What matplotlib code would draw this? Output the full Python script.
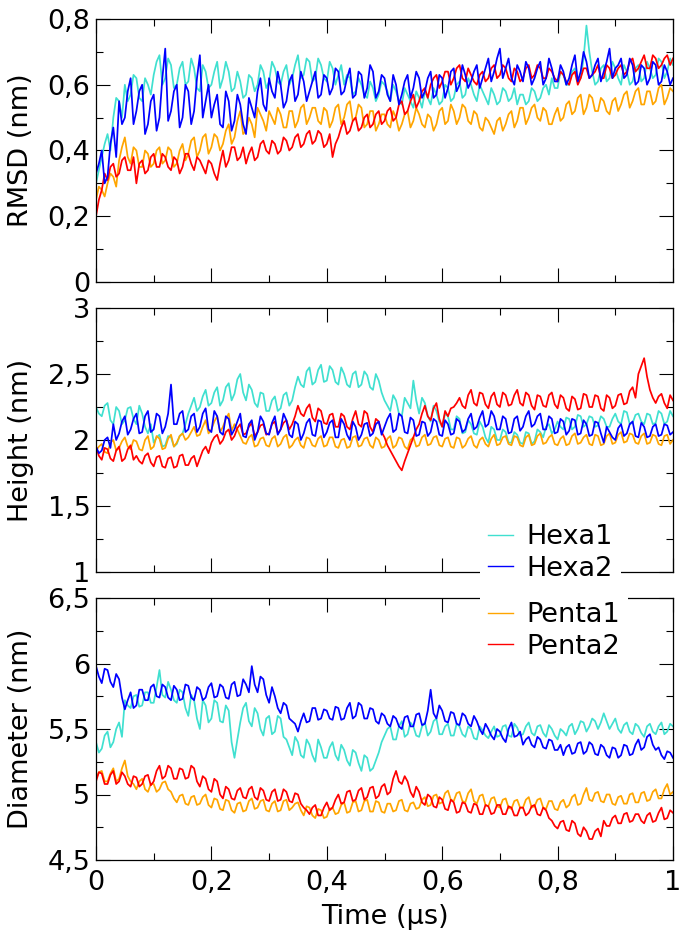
import numpy as np
import matplotlib
matplotlib.use("Agg")
import matplotlib.pyplot as plt
from matplotlib.ticker import MultipleLocator, FuncFormatter

plt.rcParams['font.family'] = ['DejaVu Sans']

# readings every 0.01 µs (t = 0 ... 1) and in between (t = 0.005 ... 0.995)
t_main = np.linspace(0, 1, 101)
t_mid = np.linspace(0.005, 0.995, 100)

# ---- RMSD (nm) ----
rmsd_hexa1 = [0.30, 0.38, 0.45, 0.50, 0.55, 0.60, 0.57, 0.62, 0.55, 0.60,
              0.63, 0.69, 0.62, 0.66, 0.60, 0.67, 0.61, 0.65, 0.58, 0.64,
              0.60, 0.67, 0.62, 0.64, 0.59, 0.61, 0.57, 0.62, 0.60, 0.64,
              0.61, 0.65, 0.60, 0.66, 0.62, 0.69, 0.63, 0.67, 0.62, 0.66,
              0.61, 0.65, 0.63, 0.60, 0.62, 0.58, 0.60, 0.56, 0.59, 0.57,
              0.60, 0.55, 0.58, 0.54, 0.57, 0.53, 0.56, 0.58, 0.54, 0.57,
              0.55, 0.59, 0.56, 0.61, 0.57, 0.60, 0.55, 0.58, 0.54, 0.57,
              0.55, 0.58, 0.56, 0.54, 0.57, 0.55, 0.58, 0.56, 0.60, 0.62,
              0.59, 0.63, 0.60, 0.65, 0.62, 0.78, 0.64, 0.61, 0.66, 0.62,
              0.65, 0.60, 0.64, 0.61, 0.66, 0.62, 0.65, 0.63, 0.67, 0.64,
              0.66]
rmsd_hexa1_mid = [0.34, 0.42, 0.40, 0.56, 0.50, 0.55, 0.63, 0.56, 0.62, 0.57,
                  0.67, 0.60, 0.68, 0.59, 0.65, 0.60, 0.68, 0.59, 0.66, 0.59,
                  0.64, 0.59, 0.67, 0.58, 0.64, 0.56, 0.63, 0.58, 0.66, 0.59,
                  0.67, 0.61, 0.64, 0.60, 0.66, 0.62, 0.68, 0.61, 0.68, 0.62,
                  0.67, 0.60, 0.66, 0.63, 0.57, 0.62, 0.57, 0.61, 0.55, 0.61,
                  0.58, 0.60, 0.55, 0.59, 0.55, 0.58, 0.53, 0.56, 0.59, 0.54,
                  0.60, 0.55, 0.60, 0.56, 0.62, 0.57, 0.60, 0.56, 0.59, 0.54,
                  0.59, 0.55, 0.59, 0.57, 0.54, 0.59, 0.55, 0.59, 0.57, 0.59,
                  0.64, 0.60, 0.64, 0.61, 0.68, 0.70, 0.60, 0.65, 0.61, 0.67,
                  0.62, 0.66, 0.60, 0.65, 0.61, 0.67, 0.62, 0.68, 0.62, 0.68]
rmsd_hexa2 = [0.33, 0.40, 0.32, 0.47, 0.55, 0.50, 0.62, 0.52, 0.60, 0.48,
              0.57, 0.50, 0.71, 0.52, 0.60, 0.50, 0.58, 0.52, 0.69, 0.55,
              0.50, 0.57, 0.47, 0.55, 0.49, 0.54, 0.45, 0.53, 0.58, 0.54,
              0.62, 0.56, 0.60, 0.55, 0.63, 0.57, 0.61, 0.58, 0.64, 0.57,
              0.62, 0.59, 0.64, 0.58, 0.65, 0.57, 0.63, 0.59, 0.64, 0.58,
              0.62, 0.55, 0.60, 0.57, 0.63, 0.59, 0.62, 0.58, 0.64, 0.57,
              0.62, 0.59, 0.65, 0.60, 0.63, 0.61, 0.66, 0.62, 0.68, 0.64,
              0.71, 0.65, 0.62, 0.66, 0.61, 0.65, 0.62, 0.67, 0.62, 0.65,
              0.61, 0.64, 0.62, 0.69, 0.64, 0.67, 0.63, 0.68, 0.64, 0.71,
              0.65, 0.68, 0.63, 0.66, 0.61, 0.65, 0.62, 0.66, 0.61, 0.64,
              0.62]
rmsd_hexa2_mid = [0.36, 0.30, 0.42, 0.38, 0.48, 0.58, 0.48, 0.58, 0.45, 0.55,
                  0.46, 0.62, 0.49, 0.58, 0.47, 0.60, 0.48, 0.62, 0.50, 0.60,
                  0.54, 0.48, 0.58, 0.46, 0.57, 0.48, 0.56, 0.50, 0.62, 0.52,
                  0.58, 0.64, 0.53, 0.61, 0.55, 0.64, 0.55, 0.61, 0.56, 0.63,
                  0.57, 0.65, 0.57, 0.62, 0.56, 0.64, 0.56, 0.66, 0.56, 0.63,
                  0.57, 0.63, 0.54, 0.61, 0.56, 0.64, 0.56, 0.62, 0.56, 0.63,
                  0.56, 0.64, 0.58, 0.66, 0.59, 0.64, 0.59, 0.65, 0.61, 0.68,
                  0.62, 0.68, 0.60, 0.64, 0.67, 0.60, 0.65, 0.60, 0.68, 0.61,
                  0.66, 0.60, 0.66, 0.61, 0.70, 0.62, 0.66, 0.61, 0.67, 0.62,
                  0.66, 0.62, 0.68, 0.60, 0.66, 0.60, 0.67, 0.60, 0.66, 0.60]
rmsd_penta1 = [0.25, 0.28, 0.30, 0.32, 0.37, 0.44, 0.36, 0.40, 0.35, 0.39,
               0.36, 0.41, 0.37, 0.40, 0.36, 0.42, 0.39, 0.44, 0.40, 0.45,
               0.41, 0.44, 0.42, 0.48, 0.44, 0.52, 0.46, 0.48, 0.53, 0.49,
               0.52, 0.48, 0.51, 0.47, 0.52, 0.49, 0.54, 0.50, 0.53, 0.48,
               0.52, 0.49, 0.54, 0.50, 0.55, 0.50, 0.53, 0.48, 0.52, 0.48,
               0.51, 0.47, 0.50, 0.48, 0.52, 0.49, 0.51, 0.47, 0.50, 0.48,
               0.53, 0.49, 0.52, 0.50, 0.53, 0.48, 0.51, 0.46, 0.49, 0.45,
               0.50, 0.48, 0.52, 0.49, 0.53, 0.50, 0.54, 0.49, 0.52, 0.48,
               0.53, 0.50, 0.55, 0.52, 0.57, 0.53, 0.56, 0.52, 0.55, 0.51,
               0.56, 0.54, 0.58, 0.55, 0.59, 0.54, 0.58, 0.55, 0.60, 0.56,
               0.58]
rmsd_penta1_mid = [0.29, 0.26, 0.33, 0.29, 0.41, 0.38, 0.41, 0.35, 0.40, 0.35,
                   0.40, 0.36, 0.41, 0.35, 0.40, 0.37, 0.43, 0.38, 0.44, 0.39,
                   0.45, 0.40, 0.46, 0.42, 0.49, 0.45, 0.50, 0.44, 0.51, 0.46,
                   0.50, 0.53, 0.47, 0.52, 0.47, 0.53, 0.48, 0.53, 0.49, 0.53,
                   0.47, 0.53, 0.48, 0.54, 0.49, 0.54, 0.47, 0.52, 0.46, 0.51,
                   0.48, 0.52, 0.46, 0.51, 0.47, 0.53, 0.48, 0.51, 0.46, 0.52,
                   0.48, 0.54, 0.48, 0.54, 0.49, 0.52, 0.47, 0.50, 0.47, 0.49,
                   0.46, 0.51, 0.47, 0.53, 0.48, 0.53, 0.50, 0.53, 0.48, 0.51,
                   0.49, 0.54, 0.51, 0.56, 0.51, 0.57, 0.52, 0.56, 0.52, 0.55,
                   0.52, 0.57, 0.53, 0.58, 0.54, 0.58, 0.54, 0.59, 0.54, 0.59]
rmsd_penta2 = [0.20, 0.28, 0.31, 0.36, 0.33, 0.38, 0.34, 0.30, 0.37, 0.34,
               0.39, 0.35, 0.38, 0.34, 0.37, 0.35, 0.39, 0.34, 0.37, 0.33,
               0.36, 0.31, 0.40, 0.37, 0.41, 0.38, 0.36, 0.41, 0.38, 0.43,
               0.39, 0.42, 0.40, 0.43, 0.41, 0.45, 0.42, 0.46, 0.43, 0.45,
               0.42, 0.38, 0.44, 0.49, 0.46, 0.50, 0.47, 0.51, 0.48, 0.52,
               0.49, 0.53, 0.50, 0.55, 0.52, 0.57, 0.55, 0.59, 0.60, 0.63,
               0.61, 0.64, 0.62, 0.66, 0.61, 0.63, 0.60, 0.64, 0.62, 0.66,
               0.63, 0.65, 0.61, 0.64, 0.62, 0.66, 0.63, 0.65, 0.62, 0.64,
               0.61, 0.63, 0.60, 0.64, 0.62, 0.65, 0.63, 0.66, 0.62, 0.65,
               0.63, 0.66, 0.64, 0.68, 0.65, 0.69, 0.65, 0.68, 0.66, 0.69,
               0.68]
rmsd_penta2_mid = [0.25, 0.33, 0.35, 0.32, 0.37, 0.34, 0.38, 0.36, 0.33, 0.38,
                   0.35, 0.39, 0.35, 0.38, 0.33, 0.39, 0.36, 0.38, 0.35, 0.37,
                   0.33, 0.36, 0.35, 0.41, 0.37, 0.41, 0.39, 0.37, 0.42, 0.40,
                   0.43, 0.39, 0.44, 0.40, 0.44, 0.41, 0.45, 0.42, 0.46, 0.41,
                   0.45, 0.42, 0.47, 0.45, 0.49, 0.46, 0.50, 0.47, 0.51, 0.48,
                   0.52, 0.49, 0.54, 0.51, 0.55, 0.53, 0.58, 0.56, 0.62, 0.59,
                   0.64, 0.60, 0.65, 0.62, 0.65, 0.61, 0.63, 0.61, 0.65, 0.62,
                   0.66, 0.62, 0.65, 0.61, 0.65, 0.62, 0.66, 0.62, 0.65, 0.62,
                   0.64, 0.61, 0.63, 0.60, 0.65, 0.62, 0.64, 0.62, 0.66, 0.62,
                   0.65, 0.63, 0.67, 0.64, 0.67, 0.65, 0.69, 0.65, 0.68, 0.66]

# ---- Height (nm) ----
height_hexa1 = [2.25, 2.18, 2.28, 2.12, 2.22, 2.15, 2.25, 2.12, 2.20, 2.05,
                1.98, 2.04, 1.96, 2.02, 1.97, 2.05, 2.20, 2.32, 2.25, 2.38,
                2.28, 2.40, 2.30, 2.43, 2.35, 2.50, 2.30, 2.38, 2.25, 2.35,
                2.22, 2.33, 2.24, 2.36, 2.30, 2.48, 2.40, 2.55, 2.44, 2.57,
                2.45, 2.53, 2.42, 2.50, 2.40, 2.52, 2.42, 2.49, 2.38, 2.45,
                2.30, 2.22, 2.30, 2.18, 2.28, 2.45, 2.20, 2.28, 2.14, 2.22,
                2.10, 2.18, 2.08, 2.16, 2.06, 2.12, 2.04, 2.10, 1.98, 2.08,
                2.00, 2.06, 1.98, 2.04, 1.97, 2.05, 1.99, 2.06, 2.10, 2.05,
                2.14, 2.08, 2.16, 2.10, 2.18, 2.12, 2.17, 2.11, 2.16, 2.10,
                2.20, 2.12, 2.21, 2.13, 2.20, 2.12, 2.19, 2.13, 2.20, 2.14,
                2.18]
height_hexa1_mid = [2.20, 2.26, 2.15, 2.25, 2.12, 2.24, 2.16, 2.26, 2.10, 2.12,
                    2.02, 1.95, 2.03, 1.95, 2.03, 2.12, 2.26, 2.22, 2.33, 2.26,
                    2.36, 2.26, 2.40, 2.30, 2.46, 2.36, 2.42, 2.28, 2.36, 2.22,
                    2.30, 2.22, 2.34, 2.26, 2.40, 2.42, 2.52, 2.42, 2.53, 2.44,
                    2.56, 2.44, 2.55, 2.42, 2.50, 2.40, 2.52, 2.40, 2.50, 2.36,
                    2.26, 2.34, 2.20, 2.32, 2.24, 2.30, 2.32, 2.18, 2.26, 2.14,
                    2.20, 2.08, 2.18, 2.05, 2.15, 2.05, 2.14, 2.02, 2.10, 2.00,
                    2.08, 1.98, 2.06, 1.98, 2.06, 1.97, 2.08, 2.02, 2.12, 2.08,
                    2.10, 2.17, 2.08, 2.19, 2.10, 2.18, 2.10, 2.18, 2.10, 2.16,
                    2.14, 2.22, 2.12, 2.19, 2.14, 2.20, 2.12, 2.22, 2.12, 2.22]
height_hexa2 = [1.95, 1.92, 2.02, 2.12, 2.05, 2.18, 2.08, 2.20, 2.06, 2.22,
                2.08, 2.18, 2.10, 2.42, 2.12, 2.22, 2.08, 2.20, 2.10, 2.24,
                2.06, 2.18, 2.04, 2.16, 2.08, 2.20, 2.02, 2.15, 2.06, 2.14,
                2.04, 2.18, 2.08, 2.15, 2.02, 2.12, 2.05, 2.16, 2.03, 2.14,
                2.06, 2.15, 2.02, 2.12, 2.00, 2.10, 2.04, 2.13, 2.05, 2.14,
                2.10, 2.20, 2.08, 2.18, 2.05, 2.15, 2.04, 2.13, 2.06, 2.14,
                2.03, 2.12, 2.05, 2.14, 2.08, 2.20, 2.10, 2.22, 2.12, 2.18,
                2.08, 2.16, 2.06, 2.18, 2.10, 2.22, 2.12, 2.20, 2.08, 2.16,
                2.06, 2.14, 2.07, 2.15, 2.05, 2.12, 2.04, 2.13, 1.98, 2.06,
                2.00, 2.12, 2.05, 2.14, 2.02, 2.10, 2.03, 2.12, 2.04, 2.11,
                2.06]
height_hexa2_mid = [1.90, 2.00, 1.94, 2.00, 2.14, 2.04, 2.16, 2.05, 2.18, 2.06,
                    2.20, 2.05, 2.20, 2.12, 2.20, 2.06, 2.18, 2.06, 2.20, 2.08,
                    2.22, 2.06, 2.18, 2.04, 2.14, 2.03, 2.12, 2.00, 2.18, 2.05,
                    2.13, 2.04, 2.20, 2.04, 2.14, 2.00, 2.13, 2.04, 2.15, 2.02,
                    2.13, 2.02, 2.16, 2.04, 2.14, 2.00, 2.12, 2.03, 2.12, 2.04,
                    2.16, 2.06, 2.20, 2.06, 2.17, 2.03, 2.14, 2.03, 2.16, 2.04,
                    2.15, 2.04, 2.16, 2.06, 2.16, 2.08, 2.17, 2.10, 2.22, 2.08,
                    2.18, 2.05, 2.16, 2.07, 2.18, 2.10, 2.18, 2.08, 2.18, 2.05,
                    2.16, 2.04, 2.16, 2.04, 2.15, 2.03, 2.14, 2.05, 2.10, 2.02,
                    2.09, 2.03, 2.12, 2.03, 2.13, 2.02, 2.10, 2.03, 2.12, 2.04]
height_penta1 = [1.92, 1.97, 1.90, 2.00, 1.94, 2.02, 1.93, 1.99, 1.92, 2.03,
                 1.95, 2.01, 1.94, 2.04, 1.98, 2.05, 2.02, 2.10, 2.04, 2.15,
                 2.08, 2.18, 2.10, 2.20, 2.12, 2.03, 1.97, 2.04, 1.96, 2.02,
                 1.95, 2.03, 1.97, 2.04, 1.96, 2.02, 1.94, 2.01, 1.95, 2.03,
                 1.96, 2.02, 1.94, 2.01, 1.95, 2.03, 1.96, 2.02, 1.94, 2.00,
                 1.95, 2.03, 1.96, 2.01, 1.93, 2.02, 1.96, 2.04, 1.97, 2.03,
                 1.95, 2.02, 1.94, 2.01, 1.96, 2.03, 1.94, 2.02, 1.95, 2.04,
                 1.97, 2.03, 1.96, 2.02, 1.95, 2.04, 1.97, 2.05, 1.98, 2.04,
                 1.96, 2.03, 1.97, 2.05, 1.98, 2.04, 1.96, 2.03, 1.97, 2.05,
                 1.98, 2.06, 1.99, 2.04, 1.97, 2.05, 1.98, 2.03, 1.96, 2.04,
                 2.00]
height_penta1_mid = [1.95, 1.91, 1.98, 1.92, 1.99, 1.95, 2.00, 1.93, 2.00, 1.93,
                     2.03, 1.93, 2.01, 1.95, 2.03, 2.00, 2.06, 2.03, 2.10, 2.05,
                     2.14, 2.06, 2.16, 2.07, 2.08, 1.98, 2.02, 1.95, 2.01, 1.96,
                     2.01, 1.95, 2.02, 1.94, 2.00, 1.96, 2.02, 1.96, 2.01, 1.95,
                     2.02, 1.95, 2.00, 1.94, 2.02, 1.95, 2.01, 1.96, 2.02, 1.94,
                     2.01, 1.94, 2.02, 1.95, 2.00, 1.95, 2.02, 1.96, 2.02, 1.96,
                     2.01, 1.95, 2.02, 1.94, 2.01, 1.96, 2.00, 1.97, 2.01, 1.96,
                     2.02, 1.97, 2.03, 1.96, 2.02, 1.96, 2.03, 1.97, 2.02, 1.97,
                     2.01, 1.96, 2.03, 1.97, 2.02, 1.97, 2.04, 1.96, 2.03, 1.97,
                     2.04, 1.98, 2.05, 1.98, 2.03, 1.97, 2.04, 1.97, 2.03, 1.97]
height_penta2 = [1.95, 1.85, 1.93, 1.84, 1.95, 1.86, 1.96, 1.88, 1.82, 1.90,
                 1.80, 1.88, 1.79, 1.87, 1.80, 1.89, 1.81, 1.88, 1.86, 1.95,
                 1.98, 2.04, 2.00, 2.08, 2.03, 2.12, 2.05, 2.13, 2.06, 2.12,
                 2.05, 2.14, 2.08, 2.15, 2.12, 2.26, 2.18, 2.27, 2.14, 2.22,
                 2.12, 2.20, 2.10, 2.18, 2.08, 2.22, 2.10, 2.20, 2.06, 2.14,
                 2.02, 1.92, 1.84, 1.77, 1.90, 2.02, 2.12, 2.26, 2.15, 2.28,
                 2.10, 2.18, 2.25, 2.32, 2.24, 2.38, 2.26, 2.35, 2.24, 2.36,
                 2.25, 2.34, 2.27, 2.38, 2.26, 2.34, 2.23, 2.33, 2.25, 2.36,
                 2.24, 2.32, 2.22, 2.31, 2.24, 2.34, 2.25, 2.33, 2.22, 2.32,
                 2.26, 2.35, 2.28, 2.40, 2.50, 2.62, 2.38, 2.28, 2.35, 2.24,
                 2.30]
height_penta2_mid = [1.88, 1.94, 1.86, 1.92, 1.84, 1.93, 1.85, 1.84, 1.88, 1.83,
                     1.87, 1.80, 1.86, 1.79, 1.88, 1.81, 1.86, 1.80, 1.92, 1.90,
                     2.02, 1.97, 2.06, 2.00, 2.09, 2.04, 2.10, 2.03, 2.11, 2.04,
                     2.12, 2.05, 2.13, 2.08, 2.18, 2.20, 2.24, 2.17, 2.24, 2.13,
                     2.19, 2.10, 2.20, 2.10, 2.16, 2.12, 2.22, 2.10, 2.16, 2.06,
                     1.96, 1.88, 1.80, 1.84, 1.96, 2.08, 2.20, 2.18, 2.24, 2.16,
                     2.22, 2.24, 2.28, 2.26, 2.34, 2.28, 2.36, 2.27, 2.33, 2.27,
                     2.36, 2.26, 2.34, 2.28, 2.36, 2.26, 2.34, 2.26, 2.34, 2.27,
                     2.34, 2.24, 2.33, 2.23, 2.35, 2.25, 2.34, 2.24, 2.34, 2.24,
                     2.34, 2.27, 2.37, 2.32, 2.56, 2.48, 2.32, 2.33, 2.28, 2.34]

# ---- Diameter (nm) ----
diam_hexa1 = [5.40, 5.35, 5.48, 5.40, 5.55, 5.72, 5.66, 5.76, 5.68, 5.78,
              5.70, 5.95, 5.74, 5.80, 5.70, 5.78, 5.60, 5.72, 5.50, 5.68,
              5.58, 5.70, 5.55, 5.64, 5.28, 5.55, 5.70, 5.52, 5.62, 5.45,
              5.60, 5.48, 5.58, 5.42, 5.30, 5.40, 5.28, 5.38, 5.25, 5.36,
              5.28, 5.40, 5.26, 5.34, 5.22, 5.32, 5.18, 5.28, 5.20, 5.32,
              5.45, 5.52, 5.42, 5.56, 5.46, 5.52, 5.44, 5.55, 5.48, 5.58,
              5.46, 5.54, 5.45, 5.52, 5.44, 5.50, 5.42, 5.49, 5.43, 5.52,
              5.45, 5.53, 5.44, 5.51, 5.46, 5.55, 5.45, 5.53, 5.44, 5.50,
              5.42, 5.48, 5.52, 5.46, 5.56, 5.48, 5.58, 5.50, 5.62, 5.50,
              5.58, 5.47, 5.55, 5.46, 5.52, 5.44, 5.54, 5.46, 5.55, 5.48,
              5.52]
diam_hexa1_mid = [5.32, 5.45, 5.36, 5.50, 5.44, 5.68, 5.75, 5.67, 5.78, 5.70,
                  5.82, 5.76, 5.86, 5.72, 5.80, 5.66, 5.76, 5.58, 5.72, 5.55,
                  5.72, 5.56, 5.68, 5.40, 5.42, 5.66, 5.56, 5.66, 5.50, 5.58,
                  5.46, 5.60, 5.44, 5.36, 5.44, 5.30, 5.42, 5.30, 5.42, 5.28,
                  5.36, 5.30, 5.38, 5.26, 5.34, 5.24, 5.30, 5.18, 5.26, 5.40,
                  5.50, 5.42, 5.52, 5.44, 5.55, 5.45, 5.52, 5.45, 5.56, 5.46,
                  5.52, 5.45, 5.54, 5.46, 5.52, 5.43, 5.52, 5.45, 5.48, 5.44,
                  5.52, 5.45, 5.54, 5.45, 5.52, 5.47, 5.52, 5.47, 5.53, 5.45,
                  5.50, 5.45, 5.54, 5.50, 5.55, 5.52, 5.56, 5.55, 5.56, 5.54,
                  5.50, 5.53, 5.48, 5.54, 5.47, 5.52, 5.48, 5.52, 5.46, 5.54]
diam_hexa2 = [5.98, 5.85, 5.95, 5.82, 5.88, 5.65, 5.78, 5.68, 5.80, 5.72,
              5.84, 5.74, 5.82, 5.72, 5.80, 5.73, 5.83, 5.72, 5.80, 5.74,
              5.85, 5.75, 5.82, 5.73, 5.86, 5.76, 5.84, 5.98, 5.78, 5.88,
              5.70, 5.75, 5.62, 5.68, 5.56, 5.48, 5.62, 5.56, 5.66, 5.58,
              5.64, 5.57, 5.66, 5.58, 5.70, 5.60, 5.68, 5.58, 5.65, 5.54,
              5.60, 5.52, 5.58, 5.50, 5.60, 5.52, 5.62, 5.54, 5.80, 5.58,
              5.64, 5.55, 5.62, 5.53, 5.60, 5.52, 5.56, 5.46, 5.50, 5.42,
              5.48, 5.40, 5.55, 5.45, 5.38, 5.44, 5.36, 5.42, 5.35, 5.41,
              5.34, 5.30, 5.38, 5.32, 5.40, 5.33, 5.38, 5.30, 5.36, 5.28,
              5.35, 5.30, 5.37, 5.31, 5.42, 5.36, 5.46, 5.34, 5.30, 5.33,
              5.28]
diam_hexa2_mid = [5.90, 5.96, 5.86, 5.92, 5.74, 5.72, 5.66, 5.80, 5.72, 5.82,
                  5.75, 5.84, 5.74, 5.83, 5.72, 5.84, 5.74, 5.82, 5.72, 5.82,
                  5.74, 5.84, 5.74, 5.84, 5.75, 5.88, 5.78, 5.84, 5.90, 5.76,
                  5.82, 5.66, 5.70, 5.58, 5.54, 5.56, 5.55, 5.66, 5.57, 5.65,
                  5.58, 5.67, 5.57, 5.66, 5.58, 5.70, 5.58, 5.66, 5.56, 5.62,
                  5.54, 5.60, 5.52, 5.59, 5.52, 5.61, 5.53, 5.64, 5.62, 5.68,
                  5.56, 5.63, 5.54, 5.62, 5.54, 5.60, 5.50, 5.54, 5.45, 5.50,
                  5.43, 5.50, 5.44, 5.48, 5.42, 5.38, 5.44, 5.36, 5.42, 5.34,
                  5.38, 5.36, 5.31, 5.39, 5.31, 5.40, 5.31, 5.38, 5.30, 5.36,
                  5.28, 5.38, 5.30, 5.38, 5.34, 5.44, 5.38, 5.36, 5.27, 5.32]
diam_penta1 = [5.12, 5.18, 5.10, 5.20, 5.12, 5.26, 5.10, 5.04, 5.12, 5.02,
               5.08, 5.04, 5.10, 5.02, 4.94, 5.00, 4.92, 4.99, 4.93, 5.00,
               4.90, 4.96, 4.88, 4.95, 4.86, 4.94, 4.88, 4.97, 4.90, 4.96,
               4.87, 4.95, 4.88, 4.96, 4.90, 4.94, 4.84, 4.90, 4.82, 4.88,
               4.83, 4.90, 4.86, 4.94, 4.87, 4.95, 4.88, 4.96, 4.87, 4.94,
               4.86, 4.93, 4.88, 4.96, 4.87, 4.94, 4.90, 4.98, 4.92, 5.00,
               4.94, 5.03, 4.95, 5.02, 4.94, 5.04, 4.93, 5.00, 4.91, 4.98,
               4.90, 4.97, 4.89, 4.96, 4.90, 4.98, 4.91, 4.97, 4.89, 4.95,
               4.88, 4.96, 4.92, 5.00, 4.93, 5.05, 4.95, 5.02, 4.94, 5.00,
               4.92, 4.99, 4.93, 5.01, 4.94, 5.02, 4.96, 5.04, 4.97, 5.08,
               5.02]
diam_penta1_mid = [5.17, 5.10, 5.16, 5.10, 5.20, 5.14, 5.08, 5.10, 5.04, 5.08,
                   5.02, 5.09, 5.04, 4.97, 4.99, 4.93, 4.98, 4.92, 4.98, 4.92,
                   4.97, 4.89, 4.96, 4.88, 4.93, 4.87, 4.95, 4.89, 4.95, 4.88,
                   4.93, 4.87, 4.95, 4.88, 4.93, 4.88, 4.91, 4.84, 4.89, 4.82,
                   4.89, 4.85, 4.92, 4.86, 4.94, 4.87, 4.95, 4.87, 4.95, 4.87,
                   4.93, 4.87, 4.95, 4.88, 4.93, 4.89, 4.96, 4.91, 4.99, 4.93,
                   5.01, 4.96, 5.01, 4.95, 5.01, 4.95, 4.99, 4.92, 4.97, 4.91,
                   4.96, 4.90, 4.95, 4.90, 4.96, 4.90, 4.96, 4.90, 4.95, 4.89,
                   4.94, 4.90, 4.98, 4.92, 5.00, 4.96, 5.01, 4.95, 5.00, 4.93,
                   4.98, 4.93, 5.00, 4.94, 5.01, 4.95, 5.02, 4.97, 5.04, 5.00]
diam_penta2 = [5.10, 5.16, 5.08, 5.18, 5.10, 5.14, 5.06, 5.13, 5.08, 5.15,
               5.10, 5.22, 5.14, 5.20, 5.12, 5.19, 5.13, 5.20, 5.06, 5.12,
               5.02, 5.10, 4.97, 5.04, 4.96, 5.05, 4.97, 5.06, 4.96, 5.03,
               4.95, 5.04, 4.96, 5.02, 4.94, 5.00, 4.90, 4.85, 4.92, 4.84,
               4.94, 4.90, 5.00, 4.94, 5.03, 4.96, 5.05, 4.98, 5.06, 4.99,
               5.08, 5.02, 5.18, 5.08, 5.10, 4.98, 5.02, 4.92, 4.98, 4.90,
               4.96, 4.88, 4.94, 4.87, 4.93, 4.86, 4.92, 4.85, 4.91, 4.86,
               4.92, 4.85, 4.90, 4.84, 4.90, 4.86, 4.92, 4.84, 4.88, 4.80,
               4.74, 4.80, 4.72, 4.78, 4.68, 4.72, 4.66, 4.74, 4.80, 4.76,
               4.84, 4.78, 4.86, 4.80, 4.85, 4.78, 4.86, 4.80, 4.90, 4.82,
               4.86]
diam_penta2_mid = [5.17, 5.08, 5.15, 5.08, 5.17, 5.08, 5.14, 5.06, 5.14, 5.07,
                   5.18, 5.12, 5.22, 5.12, 5.20, 5.12, 5.22, 5.10, 5.14, 5.04,
                   5.12, 5.00, 5.06, 4.97, 5.03, 4.98, 5.04, 4.98, 5.05, 4.96,
                   5.02, 4.95, 5.04, 4.95, 5.01, 4.93, 4.88, 4.90, 4.84, 4.90,
                   4.88, 4.96, 4.93, 5.02, 4.95, 5.03, 4.96, 5.05, 4.97, 5.06,
                   5.00, 5.12, 5.10, 5.14, 5.02, 5.06, 4.94, 5.00, 4.91, 4.98,
                   4.89, 4.96, 4.86, 4.94, 4.87, 4.93, 4.85, 4.92, 4.85, 4.92,
                   4.85, 4.91, 4.84, 4.90, 4.84, 4.91, 4.85, 4.90, 4.82, 4.76,
                   4.79, 4.73, 4.80, 4.70, 4.75, 4.66, 4.72, 4.68, 4.76, 4.82,
                   4.78, 4.85, 4.79, 4.85, 4.80, 4.84, 4.79, 4.86, 4.81, 4.88]


def series(main, mid):
    # put the on-grid and half-step readings back in time order
    t = np.concatenate([t_main, t_mid])
    y = np.concatenate([main, mid])
    order = np.argsort(t)
    return t[order], y[order]


names = ['Hexa1', 'Penta1', 'Penta2', 'Hexa2']   # drawing order
colors = {'Hexa1': '#40e0d0', 'Hexa2': '#0000ff',
          'Penta1': '#ffa500', 'Penta2': '#ff0000'}

panels = [
    ('RMSD (nm)', (0, 0.8), 0.2, 0.1,
     {'Hexa1': (rmsd_hexa1, rmsd_hexa1_mid), 'Hexa2': (rmsd_hexa2, rmsd_hexa2_mid),
      'Penta1': (rmsd_penta1, rmsd_penta1_mid), 'Penta2': (rmsd_penta2, rmsd_penta2_mid)}),
    ('Height (nm)', (1, 3), 0.5, 0.25,
     {'Hexa1': (height_hexa1, height_hexa1_mid), 'Hexa2': (height_hexa2, height_hexa2_mid),
      'Penta1': (height_penta1, height_penta1_mid), 'Penta2': (height_penta2, height_penta2_mid)}),
    ('Diameter (nm)', (4.5, 6.5), 0.5, 0.25,
     {'Hexa1': (diam_hexa1, diam_hexa1_mid), 'Hexa2': (diam_hexa2, diam_hexa2_mid),
      'Penta1': (diam_penta1, diam_penta1_mid), 'Penta2': (diam_penta2, diam_penta2_mid)}),
]

W, H = 685, 942
fig = plt.figure(figsize=(W / 100, H / 100), dpi=100)

# axes boxes in pixels: (top, bottom)
boxes = [(19, 282), (308, 572), (598, 860)]
left, right = 96, 673
FS = 19.5

comma = FuncFormatter(lambda v, pos: f"{v:g}".replace('.', ','))

axes = []
lines = {}
for (label, ylim, major, minor, data), (top, bot) in zip(panels, boxes):
    ax = fig.add_axes([left / W, 1 - bot / H, (right - left) / W, (bot - top) / H])
    for n in names:
        t, y = series(*data[n])
        ln, = ax.plot(t, y, color=colors[n], lw=1.25, label=n)
        lines[n] = ln
    ax.set_xlim(0, 1)
    ax.set_ylim(*ylim)
    ax.xaxis.set_major_locator(MultipleLocator(0.2))
    ax.xaxis.set_minor_locator(MultipleLocator(0.1))
    ax.yaxis.set_major_locator(MultipleLocator(major))
    ax.yaxis.set_minor_locator(MultipleLocator(minor))
    ax.xaxis.set_major_formatter(comma)
    ax.yaxis.set_major_formatter(comma)
    ax.tick_params(which='both', direction='in', top=True, right=True,
                   width=0.8, labelsize=FS)
    ax.tick_params(axis='y', pad=4)
    ax.tick_params(axis='x', pad=7)
    ax.tick_params(which='major', length=10)
    ax.tick_params(which='minor', length=5)
    for s in ax.spines.values():
        s.set_linewidth(0.9)
    ax.set_ylabel(label, fontsize=FS)
    ax.yaxis.set_label_coords(-0.108, 0.5)
    axes.append(ax)

axes[0].tick_params(labelbottom=False)
axes[1].tick_params(labelbottom=False)
axes[2].set_xlabel('Time (μs)', fontsize=FS, labelpad=6)

leg_kw = dict(loc='upper left', bbox_transform=fig.transFigure, frameon=True,
              facecolor='white', edgecolor='none', framealpha=1, fancybox=False,
              fontsize=FS, handlelength=0.92, handletextpad=0.5,
              borderpad=0.3, labelspacing=0.2, borderaxespad=0)
leg1 = axes[1].legend([lines['Hexa1'], lines['Hexa2']], ['Hexa1', 'Hexa2'],
                      bbox_to_anchor=(480 / W, 1 - 516 / H), **leg_kw)
leg2 = axes[2].legend([lines['Penta1'], lines['Penta2']], ['Penta1', 'Penta2'],
                      bbox_to_anchor=(480 / W, 1 - 594 / H), **leg_kw)
for leg in (leg1, leg2):
    for h in leg.get_lines():
        h.set_linewidth(1.0)

fig.savefig('out.png', dpi=100)
